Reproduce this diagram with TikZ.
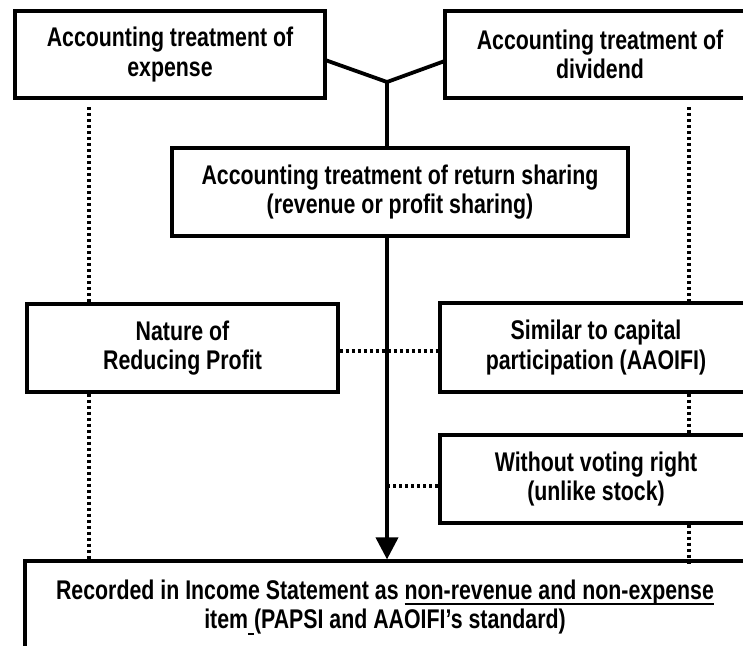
\documentclass[tikz,border=0pt]{standalone}
\usepackage{fontspec}
\setmainfont{Liberation Sans}[FakeStretch=0.79]
\usetikzlibrary{arrows.meta,calc}
\def\myul#1{\setbox0\hbox{#1}\rlap{\rule[-6pt]{\wd0}{2pt}}\box0}
\tikzset{
  box/.style={draw=black, line width=3.2pt, fill=white, align=center, inner sep=0pt,
    font=\bfseries\fontsize{27}{29.5}\selectfont},
  solidline/.style={draw=black, line width=3.8pt},
  dotline/.style={draw=black, line width=3.5pt, dash pattern=on 3.4pt off 2.6pt},
}
\begin{document}
\begin{tikzpicture}[x=1pt,y=-1pt]
\useasboundingbox (0,0) rectangle (743,645);
\clip (0,0) rectangle (743,645);
\fill[white] (0,0) rectangle (743,645);

% boxes
\node[box, minimum width=310pt, minimum height=87pt] (exp) at (170,54.5) {Accounting treatment of\\expense};
\node[box, minimum width=310pt, minimum height=87pt] (div) at (600,54.5) {Accounting treatment of\\dividend};
\node[box, minimum width=456pt, minimum height=88pt] (ret) at (400,192) {Accounting treatment of return sharing\\(revenue or profit sharing)};
\node[box, minimum width=311pt, minimum height=88pt] (nat) at (182.5,348) {Nature of\\Reducing Profit};
\node[box, minimum width=312pt, minimum height=89pt] (sim) at (596,347.5) {Similar to capital\\participation (AAOIFI)};
\node[box, minimum width=312pt, minimum height=88pt] (vot) at (596,479) {Without voting right\\(unlike stock)};
\node[box, minimum width=720pt, minimum height=92pt] (rec) at (385,607) {Recorded in Income Statement as \myul{non-revenue and non-expense}\\item\myul{\ }(PAPSI and AAOIFI’s standard)};

% coordinates
\coordinate (J) at (387,82);
\coordinate (L1) at (89,107);
\coordinate (R1) at (689,107);
\coordinate (R2) at (689,565);

% solid connectors
\draw[solidline] ([yshift=-6pt]exp.east) -- (J);
\draw[solidline] ([yshift=-7pt]div.west) -- (J);
\draw[solidline] (J) -- (J |- ret.north);
\draw[solidline, -{Triangle[length=22pt,width=22pt]}] (ret.south -| J) -- (J |- rec.north);

% dotted connectors
\draw[dotline] (L1) -- (L1 |- nat.north);
\draw[dotline] (nat.south -| L1) -- (L1 |- rec.north);
\draw[dotline] (R1) -- (R1 |- sim.north);
\draw[dotline] (sim.south -| R1) -- (R1 |- vot.north);
\draw[dotline] (vot.south -| R1) -- (R2);
\draw[dotline] ([yshift=-3pt]nat.east) -- ([yshift=-3pt]nat.east -| sim.west);
\draw[dotline] ([yshift=-7pt]vot.west -| J) -- ([yshift=-7pt]vot.west);
\end{tikzpicture}
\end{document}
